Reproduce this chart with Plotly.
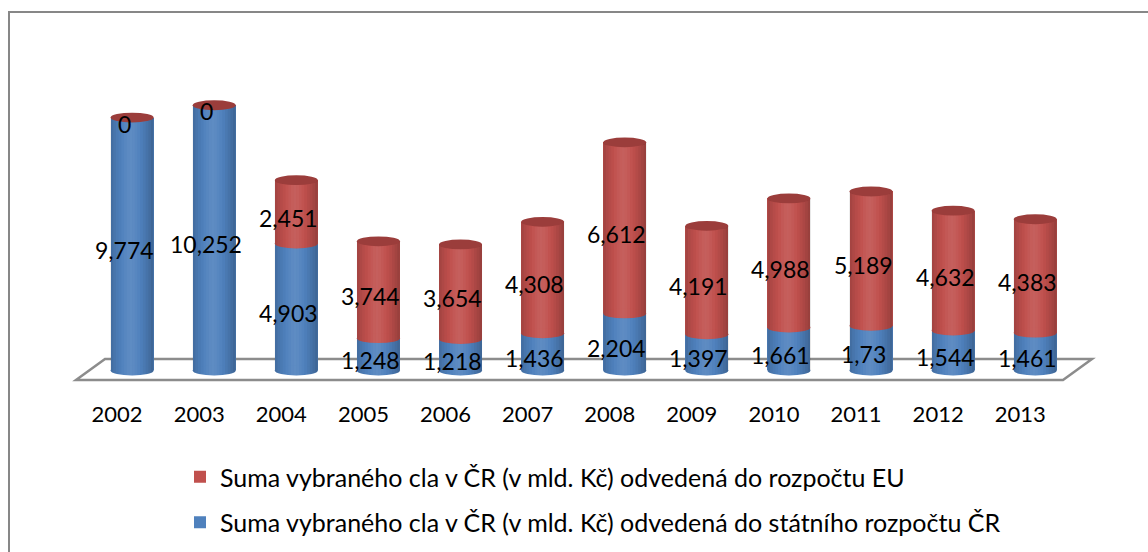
import math
import plotly.graph_objects as go

# ---------------- data ----------------
years = ["2002", "2003", "2004", "2005", "2006", "2007",
         "2008", "2009", "2010", "2011", "2012", "2013"]
cz_budget = [9.774, 10.252, 4.903, 1.248, 1.218, 1.436,
             2.204, 1.397, 1.661, 1.73, 1.544, 1.461]
eu_budget = [0, 0, 2.451, 3.744, 3.654, 4.308,
             6.612, 4.191, 4.988, 5.189, 4.632, 4.383]
name_eu = "Suma vybraného cla v ČR (v mld. Kč) odvedená do rozpočtu EU"
name_cz = "Suma vybraného cla v ČR (v mld. Kč) odvedená do státního rozpočtu ČR"

# ---------------- style ----------------
W, H = 1148, 552
ML, MR, MT, MB = 73, 52, 60, 166
PW, PH = W - ML - MR, H - MT - MB
BLUE = "#4F81BD"
RED = "#C0504D"
DARK_RED = "#9B3D3B"
FONT = "Lato"
BAR_W = 0.524
RY = 0.19
XR = [-0.72, 11.74]
YR = [-0.6, 12.0]
# cylinder shading profile across the bar width, left to right
# (negative = darken, positive = lighten)
SHADE = [-0.14, -0.09, -0.05, -0.02, 0.02, 0.05, 0.08, 0.09,
         0.08, 0.05, 0.02, -0.02, -0.06, -0.10, -0.15, -0.20]


def fmt(v):
    return f"{v:g}".replace(".", ",")


def px_x(p):
    return (p - ML) / PW


def px_y(p):
    return (H - MB - p) / PH


def arc_y(xc, x, yc):
    u = max(-1.0, min(1.0, (x - xc) / (BAR_W / 2)))
    return yc - RY * math.sqrt(1 - u * u)


def strip_path(xc, t0, t1, y_bot, y_top, n=3):
    xa = xc - BAR_W / 2 + t0 * BAR_W
    xb = xc - BAR_W / 2 + t1 * BAR_W
    xs = [xa + (xb - xa) * k / n for k in range(n + 1)]
    pts = [(x, arc_y(xc, x, y_top)) for x in xs]
    pts += [(x, arc_y(xc, x, y_bot)) for x in reversed(xs)]
    return "M" + " L".join(f"{x:.4f},{y:.4f}" for x, y in pts) + " Z"


def shade_color(s):
    return f"rgba(255,255,255,{s:.3f})" if s > 0 else f"rgba(0,0,0,{-s:.3f})"


fig = go.Figure()
fig.add_bar(x=years, y=cz_budget, name=name_cz, marker_color=BLUE,
            marker_line_width=0, width=BAR_W, legendgroup="cz",
            legendrank=2, hoverinfo="skip")
fig.add_bar(x=years, y=eu_budget, name=name_eu, marker_color=RED,
            marker_line_width=0, width=BAR_W, legendgroup="eu",
            legendrank=1, hoverinfo="skip")

shapes = []
# chart border
shapes.append(dict(type="rect", xref="paper", yref="paper",
                   x0=px_x(9), x1=px_x(W + 20), y0=px_y(H + 20), y1=px_y(12),
                   line=dict(color="#878787", width=2), fillcolor="rgba(0,0,0,0)",
                   layer="below"))
# floor
shapes.append(dict(type="path", xref="paper", yref="paper",
                   path=f"M{px_x(76)},{px_y(380)} L{px_x(1063)},{px_y(380)} "
                        f"L{px_x(1092)},{px_y(359)} L{px_x(105)},{px_y(359)} Z",
                   line=dict(color="#8C8C8C", width=2.5), fillcolor="white",
                   layer="below"))

annotations = []
ns = len(SHADE)
for i, (b, e) in enumerate(zip(cz_budget, eu_budget)):
    x0, x1 = i - BAR_W / 2, i + BAR_W / 2
    # base ellipse
    shapes.append(dict(type="circle", xref="x", yref="y", x0=x0, x1=x1,
                       y0=-RY, y1=RY, fillcolor=BLUE, line_width=0))
    # boundary between segments
    if e > 0:
        shapes.append(dict(type="circle", xref="x", yref="y", x0=x0, x1=x1,
                           y0=b - RY, y1=b + RY, fillcolor=RED, line_width=0))
    # top cap
    shapes.append(dict(type="circle", xref="x", yref="y", x0=x0, x1=x1,
                       y0=b + e - RY, y1=b + e + RY, fillcolor=DARK_RED,
                       line_width=0))
    # shading of the visible cylinder bodies
    for lo, hi in ((0, b), (b, b + e)):
        if hi - lo <= 0:
            continue
        for k, s in enumerate(SHADE):
            shapes.append(dict(type="path", xref="x", yref="y",
                               path=strip_path(i, k / ns, (k + 1) / ns, lo, hi),
                               fillcolor=shade_color(s), line_width=0))
    annotations.append(dict(x=i, y=b / 2, xref="x", yref="y", text=fmt(b),
                            showarrow=False, xshift=-8, yshift=-6,
                            font=dict(family=FONT, size=23, color="black")))
    annotations.append(dict(x=i, y=b + e / 2, xref="x", yref="y", text=fmt(e),
                            showarrow=False, xshift=-8, yshift=-6,
                            font=dict(family=FONT, size=23, color="black")))

fig.update_layout(
    width=W, height=H,
    margin=dict(l=ML, r=MR, t=MT, b=MB, pad=0, autoexpand=False),
    barmode="stack",
    bargap=0,
    paper_bgcolor="white", plot_bgcolor="rgba(0,0,0,0)",
    font=dict(family=FONT, color="black"),
    shapes=shapes,
    annotations=annotations,
    showlegend=True,
    legend=dict(x=px_x(180), y=px_y(454), xanchor="left", yanchor="top",
                orientation="v", traceorder="grouped",
                tracegroupgap=10, font=dict(family=FONT, size=25, color="black"),
                bgcolor="rgba(0,0,0,0)"),
    xaxis=dict(range=XR, showgrid=False, zeroline=False, showline=False,
               ticks="outside", ticklen=9, tickcolor="rgba(0,0,0,0)",
               tickfont=dict(family=FONT, size=22, color="black"),
               ticklabelshift=-15, fixedrange=True, automargin=False),
    yaxis=dict(range=YR, visible=False, fixedrange=True, automargin=False),
)

fig.write_html("out.html", config={"displayModeBar": False},
               post_script="document.body.style.margin='0';")
